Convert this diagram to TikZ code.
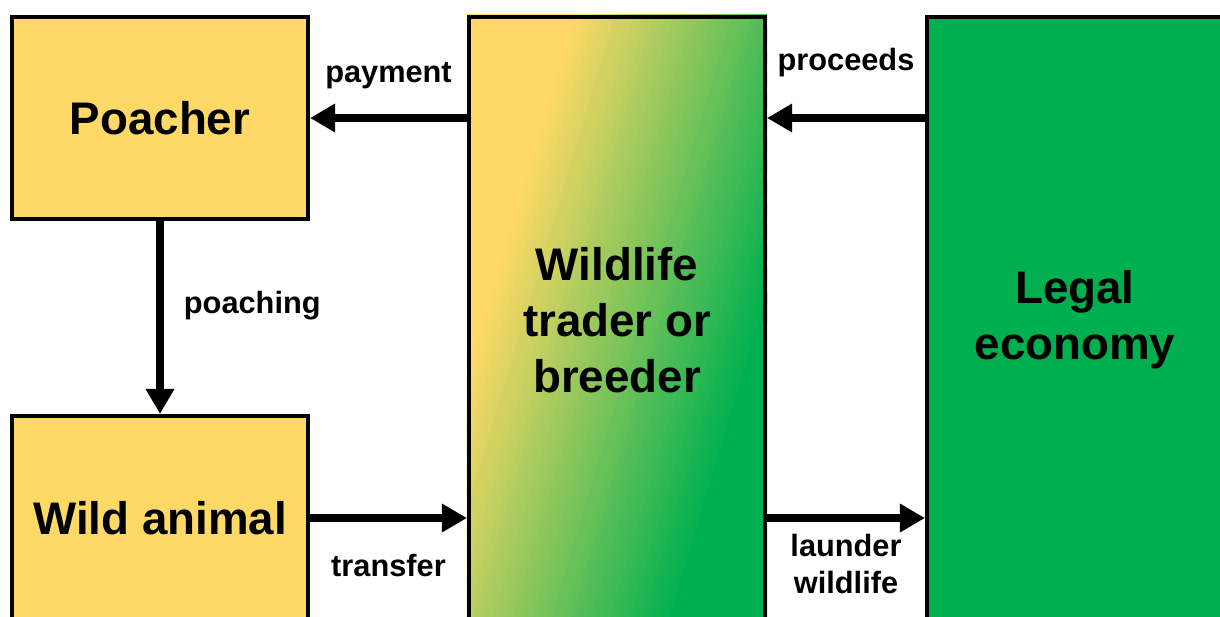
\documentclass[tikz,border=0pt]{standalone}
\usepackage{fontspec}
\setmainfont{Liberation Sans}
\usetikzlibrary{arrows.meta,backgrounds}
\definecolor{gold}{HTML}{FFD966}
\definecolor{leaf}{HTML}{00B050}
\tikzset{
  party/.style={draw=black,line width=2.3pt,minimum width=5.92cm,inner sep=0pt,align=center,font=\fontsize{26}{32}\selectfont\bfseries},
  flow/.style={line width=4.5pt,-{Triangle[length=0.5cm,width=0.54cm]}},
  tag/.style={inner sep=0pt,align=center,font=\fontsize{17.5}{21}\selectfont\bfseries}
}
\begin{document}
\begin{tikzpicture}
  \useasboundingbox (0,0) rectangle (24.4,-12.32);
  \node (poacher) at (3.2,-2.36) [party,fill=gold,minimum height=4.04cm] {Poacher};
  \node (animal) at (3.2,-10.36) [party,fill=gold,minimum height=4.08cm] {Wild animal};
  \node (trader) at (12.34,-6.4) [party,minimum height=12.12cm] {Wildlife\\trader or\\breeder};
  \node (legal) at (21.5,-6.4) [party,fill=leaf,minimum height=12.12cm] {Legal\\economy};
  % yellow to green behind the trader, in thin strips
  \begin{scope}[on background layer]
    \clip (trader.south west) rectangle (trader.north east);
    \begin{scope}[rotate around={-16.7:(12.7,-6)}]
      \fill[gold] (0,-20) rectangle (9.85,8);
      \foreach \i in {0,...,43} {
        \pgfmathtruncatemacro{\mix}{100*\i/43}
        \fill[leaf!\mix!gold] (9.8+0.125*\i,-20) rectangle (9.8+0.125*\i+0.2,8);
      }
      \fill[leaf] (15.2,-20) rectangle (28,8);
    \end{scope}
  \end{scope}
  \draw[flow] (trader.west |- poacher.east) -- node[tag,midway,yshift=0.84cm]{payment} (poacher.east);
  \draw[flow] (legal.west |- poacher.east) -- node[tag,midway,yshift=1.1cm]{proceeds} (trader.east |- poacher.east);
  \draw[flow] (poacher.south) -- node[tag,midway,anchor=west,xshift=0.4cm,yshift=0.23cm]{poaching} (animal.north);
  \draw[flow] (animal.east) -- node[tag,midway,yshift=-0.95cm]{transfer} (animal.east -| trader.west);
  \draw[flow] (trader.east |- animal.east) -- node[tag,midway,yshift=-0.92cm]{launder\\wildlife} (legal.west |- animal.east);
\end{tikzpicture}
\end{document}
